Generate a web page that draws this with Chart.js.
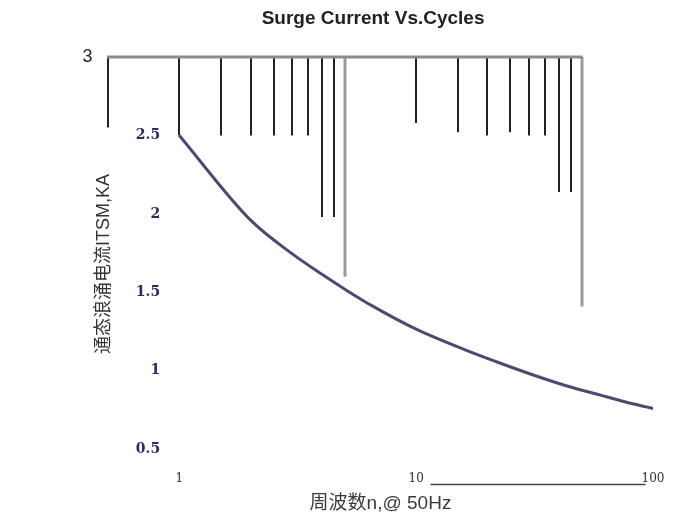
<!DOCTYPE html>
<html>
<head>
<meta charset="utf-8">
<title>Surge Current Vs.Cycles</title>
<script src="https://cdn.jsdelivr.net/npm/chart.js@4.4.1/dist/chart.umd.min.js"></script>
<style>
  html, body { margin: 0; padding: 0; background: #fff; }
  #wrap { position: relative; width: 675px; height: 520px; }
</style>
</head>
<body>
<div id="wrap"><canvas id="surgeChart"></canvas></div>
<script>
// cycles (n @ 50Hz) and surge current I_TSM in kA
var cycles = [1, 2, 3, 4, 5, 6.5, 10, 16, 23, 31, 43, 60, 82, 100];
var surgeKA = [2.5, 1.96, 1.745, 1.615, 1.52, 1.415, 1.265, 1.135, 1.045, 0.975, 0.905, 0.845, 0.79, 0.76];

var xTicks = [1, 10, 100];
var yTicks = [0.5, 1, 1.5, 2, 2.5];
var yTopTick = [3];

// grid hanging from the top frame: x in cycles, where each line stops in kA
var gridX = [0.5, 1, 1.5, 2, 2.5, 3, 3.5, 4, 4.5, 5, 10, 15, 20, 25, 30, 35, 40, 45, 50];
var gridEnd = [2.55, 2.5, 2.5, 2.5, 2.5, 2.5, 2.5, 1.98, 1.98, 1.6, 2.58, 2.52, 2.5, 2.52, 2.5, 2.5, 2.14, 2.14, 1.41];
var gridGrey = [5, 50];
var baseLineX = [11.5, 93];
var baseLineY = 0.28;

var yMin = 0.36, yMax = 3;

var hangingGrid = {
    id: 'hangingGrid',
    beforeDatasetsDraw: function(chart) {
        var ctx = chart.ctx;
        var x = chart.scales.x, y = chart.scales.y;
        var top = y.getPixelForValue(yMax);
        ctx.save();
        gridX.forEach(function(v, i) {
            var grey = gridGrey.indexOf(v) >= 0;
            var px = Math.round(x.getPixelForValue(v));
            ctx.strokeStyle = grey ? '#9a9a9a' : '#222';
            ctx.lineWidth = grey ? 3 : 2;
            ctx.beginPath();
            ctx.moveTo(px, top);
            ctx.lineTo(px, y.getPixelForValue(gridEnd[i]));
            ctx.stroke();
        });
        // top frame
        ctx.strokeStyle = '#8c8c8c';
        ctx.lineWidth = 3;
        ctx.beginPath();
        ctx.moveTo(x.getPixelForValue(gridX[0]) - 1, top);
        ctx.lineTo(x.getPixelForValue(gridX[gridX.length - 1]) + 1, top);
        ctx.stroke();
        // short base line
        var by = Math.round(y.getPixelForValue(baseLineY)) + 0.5;
        ctx.strokeStyle = '#444';
        ctx.lineWidth = 1.5;
        ctx.beginPath();
        ctx.moveTo(x.getPixelForValue(baseLineX[0]), by);
        ctx.lineTo(x.getPixelForValue(baseLineX[1]), by);
        ctx.stroke();
        ctx.restore();
    }
};

var sans = "'Liberation Sans', Arial, 'Noto Sans CJK SC', sans-serif";
var serif = "'DejaVu Serif', serif";
var noGrid = { display: false, drawTicks: false };

new Chart(document.getElementById('surgeChart'), {
    type: 'line',
    data: {
        datasets: [{
            data: cycles.map(function(c, i) { return { x: c, y: surgeKA[i] }; }),
            borderColor: '#4b4b70',
            borderWidth: 3,
            pointRadius: 0,
            fill: false,
            cubicInterpolationMode: 'monotone'
        }]
    },
    options: {
        responsive: true,
        maintainAspectRatio: false,
        animation: false,
        layout: { autoPadding: false, padding: { left: 93.2, right: 22, top: 0, bottom: 0 } },
        plugins: {
            legend: { display: false },
            tooltip: { enabled: false },
            title: {
                display: true,
                text: 'Surge Current Vs.Cycles',
                color: '#222',
                font: { family: sans, size: 19, weight: 'bold' },
                padding: { top: 7.6, bottom: 26.6 }
            }
        },
        scales: {
            x: {
                type: 'logarithmic',
                min: 0.5,
                max: 100,
                afterBuildTicks: function(s) { s.ticks = xTicks.map(function(v) { return { value: v }; }); },
                grid: noGrid,
                border: { display: false },
                ticks: {
                    autoSkip: false, maxRotation: 0, padding: 0.8, color: '#333',
                    font: { family: serif, size: 12 },
                    callback: function(v) { return String(v); }
                },
                title: {
                    display: true,
                    text: '周波数n,@ 50Hz',
                    color: '#3a3a3a',
                    font: { family: sans, size: 19 },
                    padding: { top: 5.4, bottom: 4.6 }
                }
            },
            y: {
                min: yMin,
                max: yMax,
                grid: noGrid,
                border: { display: false },
                ticks: { display: false },
                title: {
                    display: true,
                    text: '通态浪涌电流ITSM,KA',
                    color: '#333',
                    font: { family: sans, size: 18 },
                    padding: { top: 0, bottom: -6.8 }
                }
            },
            // tick labels 0.5 .. 2.5 sit inside the plot, right edge at about n = 0.83
            yIn: {
                position: { x: 0.83 },
                min: yMin,
                max: yMax,
                afterBuildTicks: function(s) { s.ticks = yTicks.map(function(v) { return { value: v }; }); },
                grid: noGrid,
                border: { display: false },
                ticks: {
                    padding: 0, color: '#2b2b5e',
                    font: { family: serif, size: 14, weight: 'bold' },
                    callback: function(v) { return String(v); }
                }
            },
            // the lone "3" just left of the frame
            yTop: {
                position: { x: 0.43 },
                min: yMin,
                max: yMax,
                afterBuildTicks: function(s) { s.ticks = yTopTick.map(function(v) { return { value: v }; }); },
                grid: noGrid,
                border: { display: false },
                ticks: { padding: 0, color: '#222', font: { family: sans, size: 18 } }
            }
        }
    },
    plugins: [hangingGrid]
});
</script>
</body>
</html>
